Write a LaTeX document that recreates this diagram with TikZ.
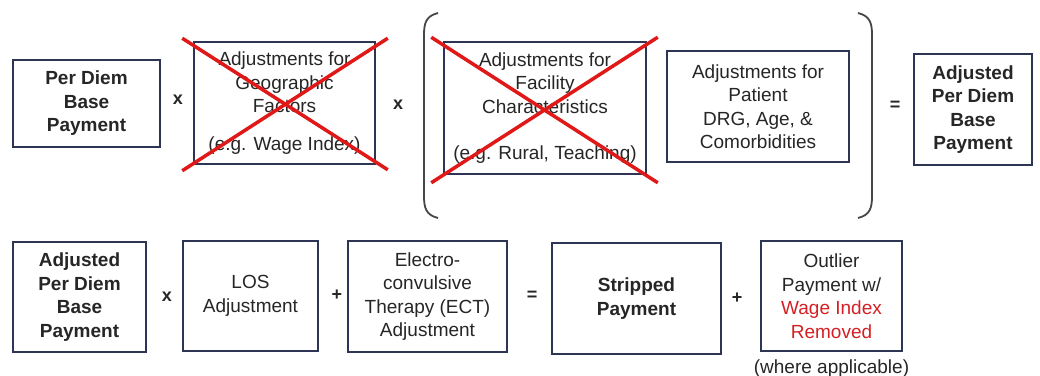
\documentclass[tikz,border=0pt]{standalone}
\usepackage{fontspec}
\setmainfont{Liberation Sans}
\usepackage{tikz}
\usepackage{color}

\definecolor{boxline}{RGB}{46,52,84}
\definecolor{txt}{RGB}{38,38,38}
\definecolor{crossred}{RGB}{224,24,24}
\definecolor{wagered}{RGB}{212,32,36}

\begin{document}
\begin{tikzpicture}[x=1pt,y=-1pt]
\tikzstyle{box}=[draw=boxline,line width=1.5pt,align=center,text=txt,inner sep=0pt,font=\fontsize{19}{23.5}\selectfont]
\tikzstyle{bbox}=[box,font=\fontsize{19}{23.5}\selectfont\bfseries]
\tikzstyle{op}=[text=txt,font=\fontsize{18}{20}\selectfont\bfseries]
\tikzstyle{crossout}=[draw=crossred,line width=3.5pt]
\tikzstyle{paren}=[draw=txt!85,line width=1.8pt]
\useasboundingbox[fill=white] (0,0) rectangle (1040,375);

% top row
\node[bbox,minimum width=147pt,minimum height=87pt] (base) at (86.5,103.5) {Per Diem\\Base\\Payment};
\node[op] (x1) at (178,100) {x};
\node[box,minimum width=181pt,minimum height=122pt] (geo) at (284.5,103)
  {Adjustments for\\Geographic\\Factors\\[14pt](e.g. Wage Index)};
\node[op] (x2) at (398,105) {x};
\node[box,minimum width=202pt,minimum height=132pt] (fac) at (545,108)
  {Adjustments for\\Facility\\Characteristics\\[23pt](e.g. Rural, Teaching)};
\node[box,minimum width=182pt,minimum height=111pt] (pat) at (758,106.5)
  {Adjustments for\\Patient\\DRG, Age, \&\\Comorbidities};
\node[op] (eq1) at (895,106) {=};
\node[bbox,minimum width=118pt,minimum height=111pt] (adj) at (973,109.5)
  {Adjusted\\Per Diem\\Base\\Payment};

% crossed out factors
\draw[crossout] ([shift={(-11,-3)}]geo.north west) -- ([shift={(12,5)}]geo.south east);
\draw[crossout] ([shift={(-11,6)}]geo.south west) -- ([shift={(12,-3)}]geo.north east);
\draw[crossout] ([shift={(-12,-4)}]fac.north west) -- ([shift={(11,8)}]fac.south east);
\draw[crossout] ([shift={(-12,8)}]fac.south west) -- ([shift={(11,-4)}]fac.north east);

% brackets
\coordinate (lp) at (424,13);
\coordinate (rp) at (872,13);
\draw[paren] ([shift={(14,0)}]lp) .. controls ([shift={(2,3)}]lp) and ([shift={(0,10)}]lp) .. ([shift={(0,22)}]lp)
  -- ([shift={(0,183)}]lp) .. controls ([shift={(0,195)}]lp) and ([shift={(2,202)}]lp) .. ([shift={(14,205)}]lp);
\draw[paren] ([shift={(-14,0)}]rp) .. controls ([shift={(-2,3)}]rp) and ([shift={(0,10)}]rp) .. ([shift={(0,22)}]rp)
  -- ([shift={(0,183)}]rp) .. controls ([shift={(0,195)}]rp) and ([shift={(-2,202)}]rp) .. ([shift={(-14,205)}]rp);

% bottom row
\node[bbox,minimum width=133pt,minimum height=110pt] (adj2) at (79.5,297)
  {Adjusted\\Per Diem\\Base\\Payment};
\node[op] (x3) at (167,297) {x};
\node[box,minimum width=135pt,minimum height=110pt] (los) at (250.5,296) {LOS\\Adjustment};
\node[op] (p1) at (337,295) {+};
\node[box,minimum width=159pt,minimum height=111pt] (ect) at (427.5,296.5)
  {Electro-\\convulsive\\Therapy (ECT)\\Adjustment};
\node[op] (eq2) at (532,296) {=};
\node[bbox,minimum width=169pt,minimum height=111pt] (strip) at (636.5,298.5) {Stripped\\Payment};
\node[op] (p2) at (737,298) {+};
\node[box,minimum width=141pt,minimum height=110pt] (outl) at (831.5,296)
  {Outlier\\Payment w/\\\textcolor{wagered}{Wage Index}\\\textcolor{wagered}{Removed}};
\node[text=txt,font=\fontsize{19}{23.5}\selectfont,anchor=north] (where) at ([yshift=-4pt]outl.south) {(where applicable)};
\end{tikzpicture}
\end{document}
